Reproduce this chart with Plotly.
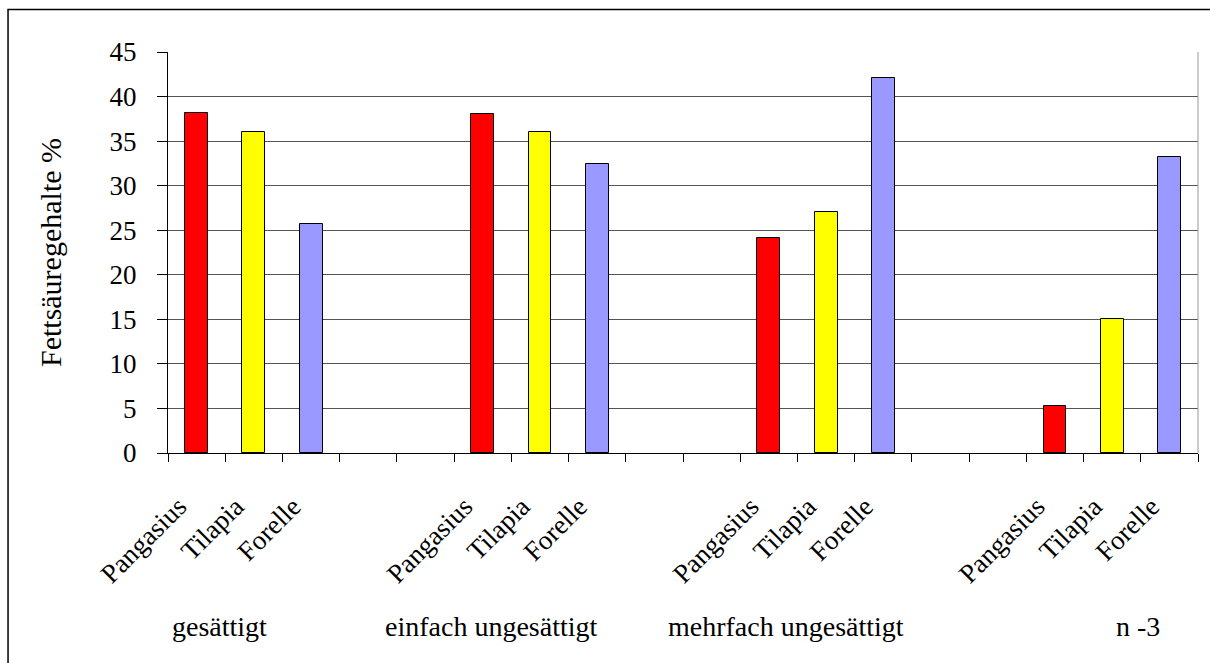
import plotly.graph_objects as go

# Fettsäuregehalte (%) je Fischart und Fettsäuregruppe
groups = ["gesättigt", "einfach ungesättigt", "mehrfach ungesättigt", "n -3"]
fish = ["Pangasius", "Tilapia", "Forelle"]
pangasius = [38.1, 38.0, 24.1, 5.3]
tilapia = [36.0, 36.0, 27.0, 15.0]
forelle = [25.7, 32.4, 42.1, 33.2]
y_ticks = [0, 5, 10, 15, 20, 25, 30, 35, 40, 45]

series = [pangasius, tilapia, forelle]
colors = ["#FF0000", "#FFFF00", "#9999FF"]

# each group takes 3 bar slots followed by 2 empty slots
slots_per_group = 5
n_slots = slots_per_group * (len(groups) - 1) + len(fish)

FONT = "Liberation Serif, Times New Roman, serif"

fig = go.Figure()
for fi, (name, vals, col) in enumerate(zip(fish, series, colors)):
    xs = [g * slots_per_group + fi for g in range(len(groups))]
    fig.add_trace(go.Bar(
        x=xs, y=vals, name=name, width=0.4,
        marker=dict(color=col, line=dict(color="black", width=1)),
        showlegend=False,
    ))

tickvals = [g * slots_per_group + fi for g in range(len(groups)) for fi in range(len(fish))]
ticktext = [fish[fi] for g in range(len(groups)) for fi in range(len(fish))]

fig.update_xaxes(
    range=[-0.5, n_slots - 0.5],
    tickmode="array", tickvals=tickvals, ticktext=ticktext,
    tickangle=-45, ticks="", ticklabelstandoff=26, ticklabelshift=-18,
    tickfont=dict(family=FONT, size=27, color="black"),
    showline=True, linecolor="black", linewidth=1,
    showgrid=False, zeroline=False,
    minor=dict(tick0=-0.5, dtick=1, ticks="outside", ticklen=8,
               tickcolor="black", tickwidth=1, showgrid=False),
)
fig.update_yaxes(
    range=[0, 45], tickmode="array", tickvals=y_ticks,
    ticks="outside", ticklen=10, tickcolor="black",
    ticklabelstandoff=15,
    tickfont=dict(family=FONT, size=27, color="black"),
    showline=True, linecolor="black", linewidth=1,
    showgrid=True, gridcolor="#555555", gridwidth=1,
    zeroline=False,
    title=dict(text="Fettsäuregehalte %", standoff=39,
               font=dict(family=FONT, size=30, color="black")),
)

# group captions below the fish names
group_label_x = [0.4, 5.15, 10.3, 16.45]
annotations = [
    dict(text=g, x=gx, xref="x", y=-0.432, yref="paper",
         showarrow=False, xanchor="center", yanchor="middle",
         font=dict(family=FONT, size=28, color="black"))
    for g, gx in zip(groups, group_label_x)
]

shapes = [
    # right edge of the plot area
    dict(type="line", xref="paper", yref="paper", x0=1, x1=1, y0=0, y1=1,
         line=dict(color="#999999", width=1)),
    # outer frame around the whole chart
    dict(type="rect", xref="paper", yref="paper",
         x0=-0.1553, x1=1.02, y0=-0.54, y1=1.106,
         line=dict(color="black", width=1.5), fillcolor="rgba(0,0,0,0)"),
]

fig.update_layout(
    width=1210, height=663,
    margin=dict(l=168, r=12, t=52, b=210),
    paper_bgcolor="white", plot_bgcolor="white",
    barmode="overlay", bargap=0,
    annotations=annotations, shapes=shapes,
    font=dict(family=FONT, color="black"),
)

fig.write_html("out.html")
